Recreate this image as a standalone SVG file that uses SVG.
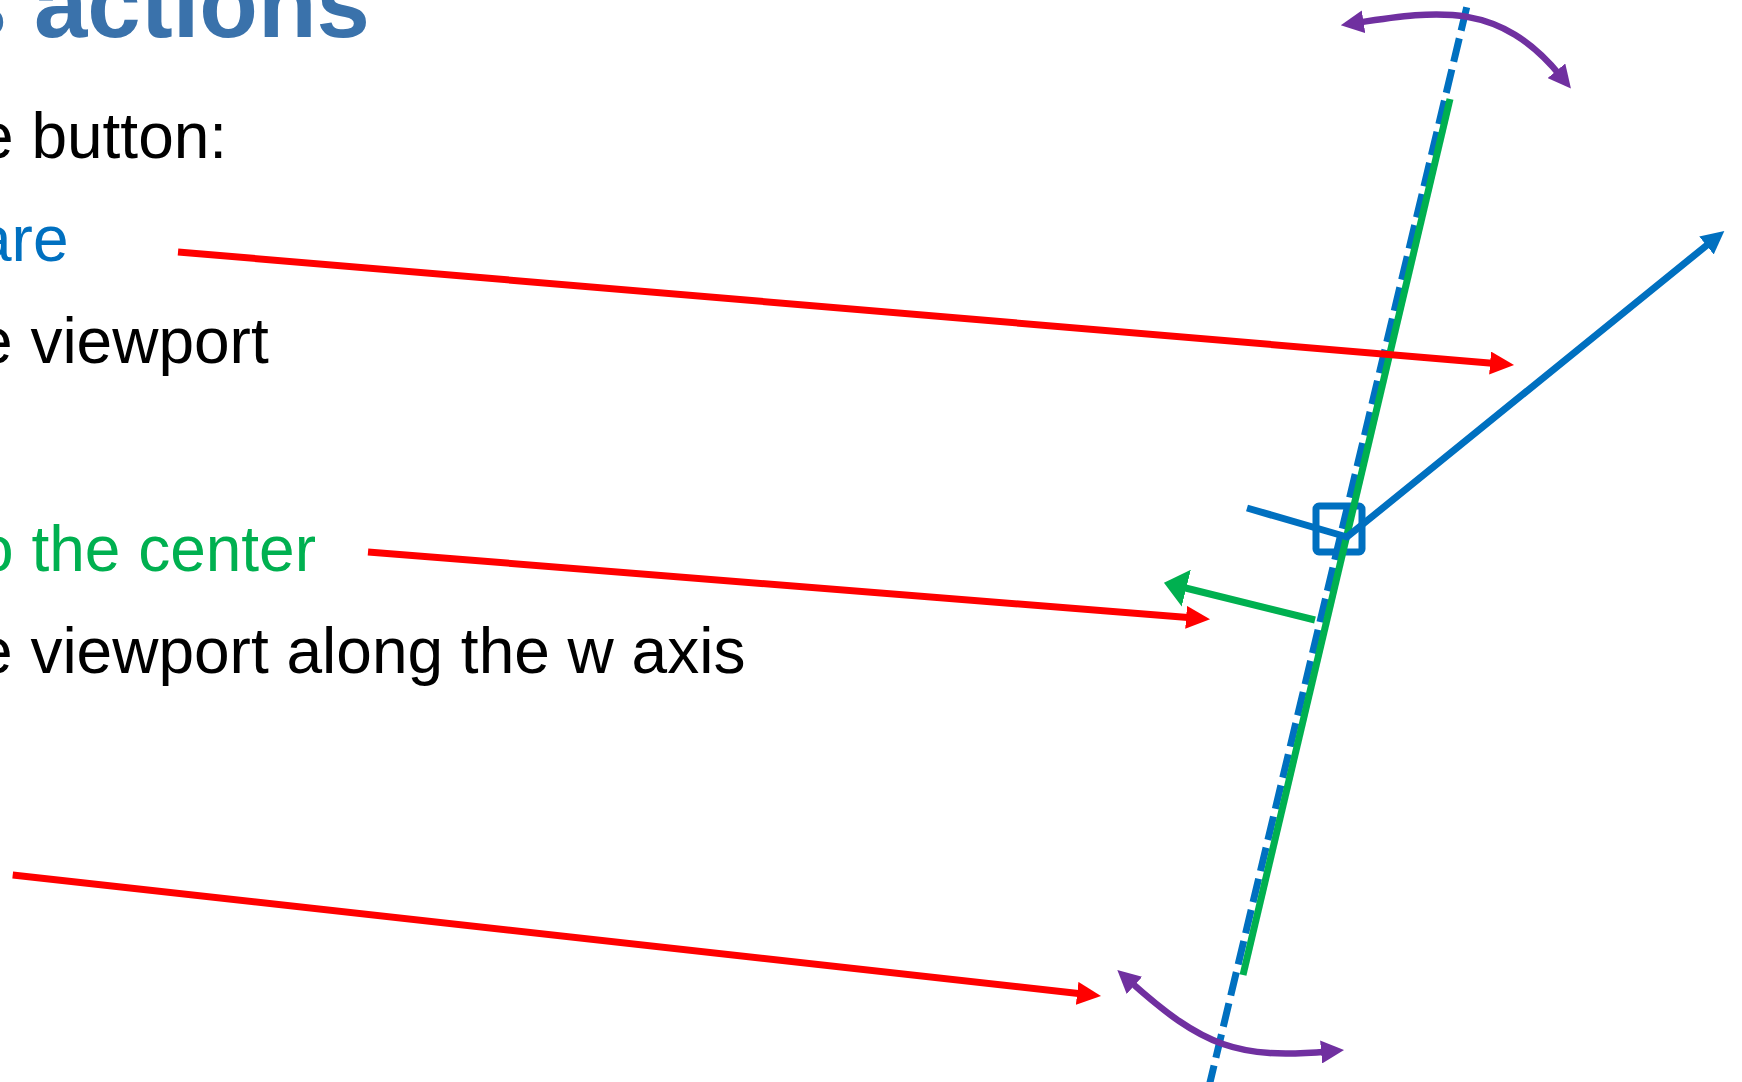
<svg xmlns="http://www.w3.org/2000/svg" width="1742" height="1082" viewBox="0 0 1742 1082">
  <style>
    .title { font-family: "Liberation Sans", Arial, sans-serif; font-weight: bold; font-size: 96px; fill: #3A72AB; }
    .body { font-family: "Liberation Sans", Arial, sans-serif; font-size: 64px; fill: #000000; }
    .blue-t { fill: #0070C0; }
    .green-t { fill: #00B050; }
    .red { fill: none; stroke: #FF0000; stroke-width: 7; }
    .blue { fill: none; stroke: #0070C0; stroke-width: 7; }
    .green { fill: none; stroke: #00B050; stroke-width: 7; }
    .purple { fill: none; stroke: #7030A0; stroke-width: 6.5; }
  </style>
  <defs>
    <marker id="arrRed" markerUnits="userSpaceOnUse" markerWidth="24" markerHeight="23" refX="8" refY="11.5" orient="auto">
      <path d="M0,0 L24,11.5 L0,23 z" fill="#FF0000"/>
    </marker>
    <marker id="arrBlue" markerUnits="userSpaceOnUse" markerWidth="23" markerHeight="23" refX="7" refY="11.5" orient="auto">
      <path d="M0,0 L23,11.5 L0,23 z" fill="#0070C0"/>
    </marker>
    <marker id="arrGreen" markerUnits="userSpaceOnUse" markerWidth="23" markerHeight="38" refX="7" refY="19" orient="auto">
      <path d="M0,0 L23,19 L0,38 z" fill="#00B050"/>
    </marker>
    <marker id="arrPurple" markerUnits="userSpaceOnUse" markerWidth="23" markerHeight="23" refX="7" refY="11.5" orient="auto-start-reverse">
      <path d="M0,0 L23,11.5 L0,23 z" fill="#7030A0"/>
    </marker>
  </defs>

  <g id="title">
    <text class="title" x="370" y="37" text-anchor="end">s actions</text>
  </g>
  <g id="text-lines">
    <text id="t-button" class="body" x="-22" y="158">e button:</text>
    <text id="t-square" class="body blue-t" x="-24" y="261">are</text>
    <text id="t-viewport" class="body" x="-23" y="363">e viewport</text>
    <text id="t-center" class="body green-t" x="-22" y="571">o the center</text>
    <text id="t-waxis" class="body" x="-23" y="673">e viewport along the w axis</text>
  </g>

  <g id="viewport-plane">
    <path id="w-axis-dashed" class="blue" d="M1466.7,7.3 L1205.8,1100" stroke-dasharray="24 8"/>
    <rect id="center-square" x="1316" y="506" width="46" height="46" rx="3" class="blue"/>
    <path id="plane-line" class="green" d="M1450,99 L1243,975"/>
  </g>

  <g id="connectors">
    <path id="blue-axis" class="blue" d="M1247,508 L1347,537 L1711.9,241.1" marker-end="url(#arrBlue)"/>
    <path id="green-arrow" class="green" d="M1315,620 L1179.5,586.5" marker-end="url(#arrGreen)"/>
    <path id="red-1" class="red" d="M178,252 L1498.1,363.7" marker-end="url(#arrRed)"/>
    <path id="red-2" class="red" d="M368,552 L1194.1,618" marker-end="url(#arrRed)"/>
    <path id="red-3" class="red" d="M12.7,875 L1085.1,994.2" marker-end="url(#arrRed)"/>
    <path id="rotate-top" class="purple" d="M1356.6,22.9 C1440,10 1500,2 1560.8,76.2" marker-start="url(#arrPurple)" marker-end="url(#arrPurple)"/>
    <path id="rotate-bottom" class="purple" d="M1129.2,980.7 C1203.5,1047.6 1238.5,1059.1 1328.1,1051.4" marker-start="url(#arrPurple)" marker-end="url(#arrPurple)"/>
  </g>
</svg>
